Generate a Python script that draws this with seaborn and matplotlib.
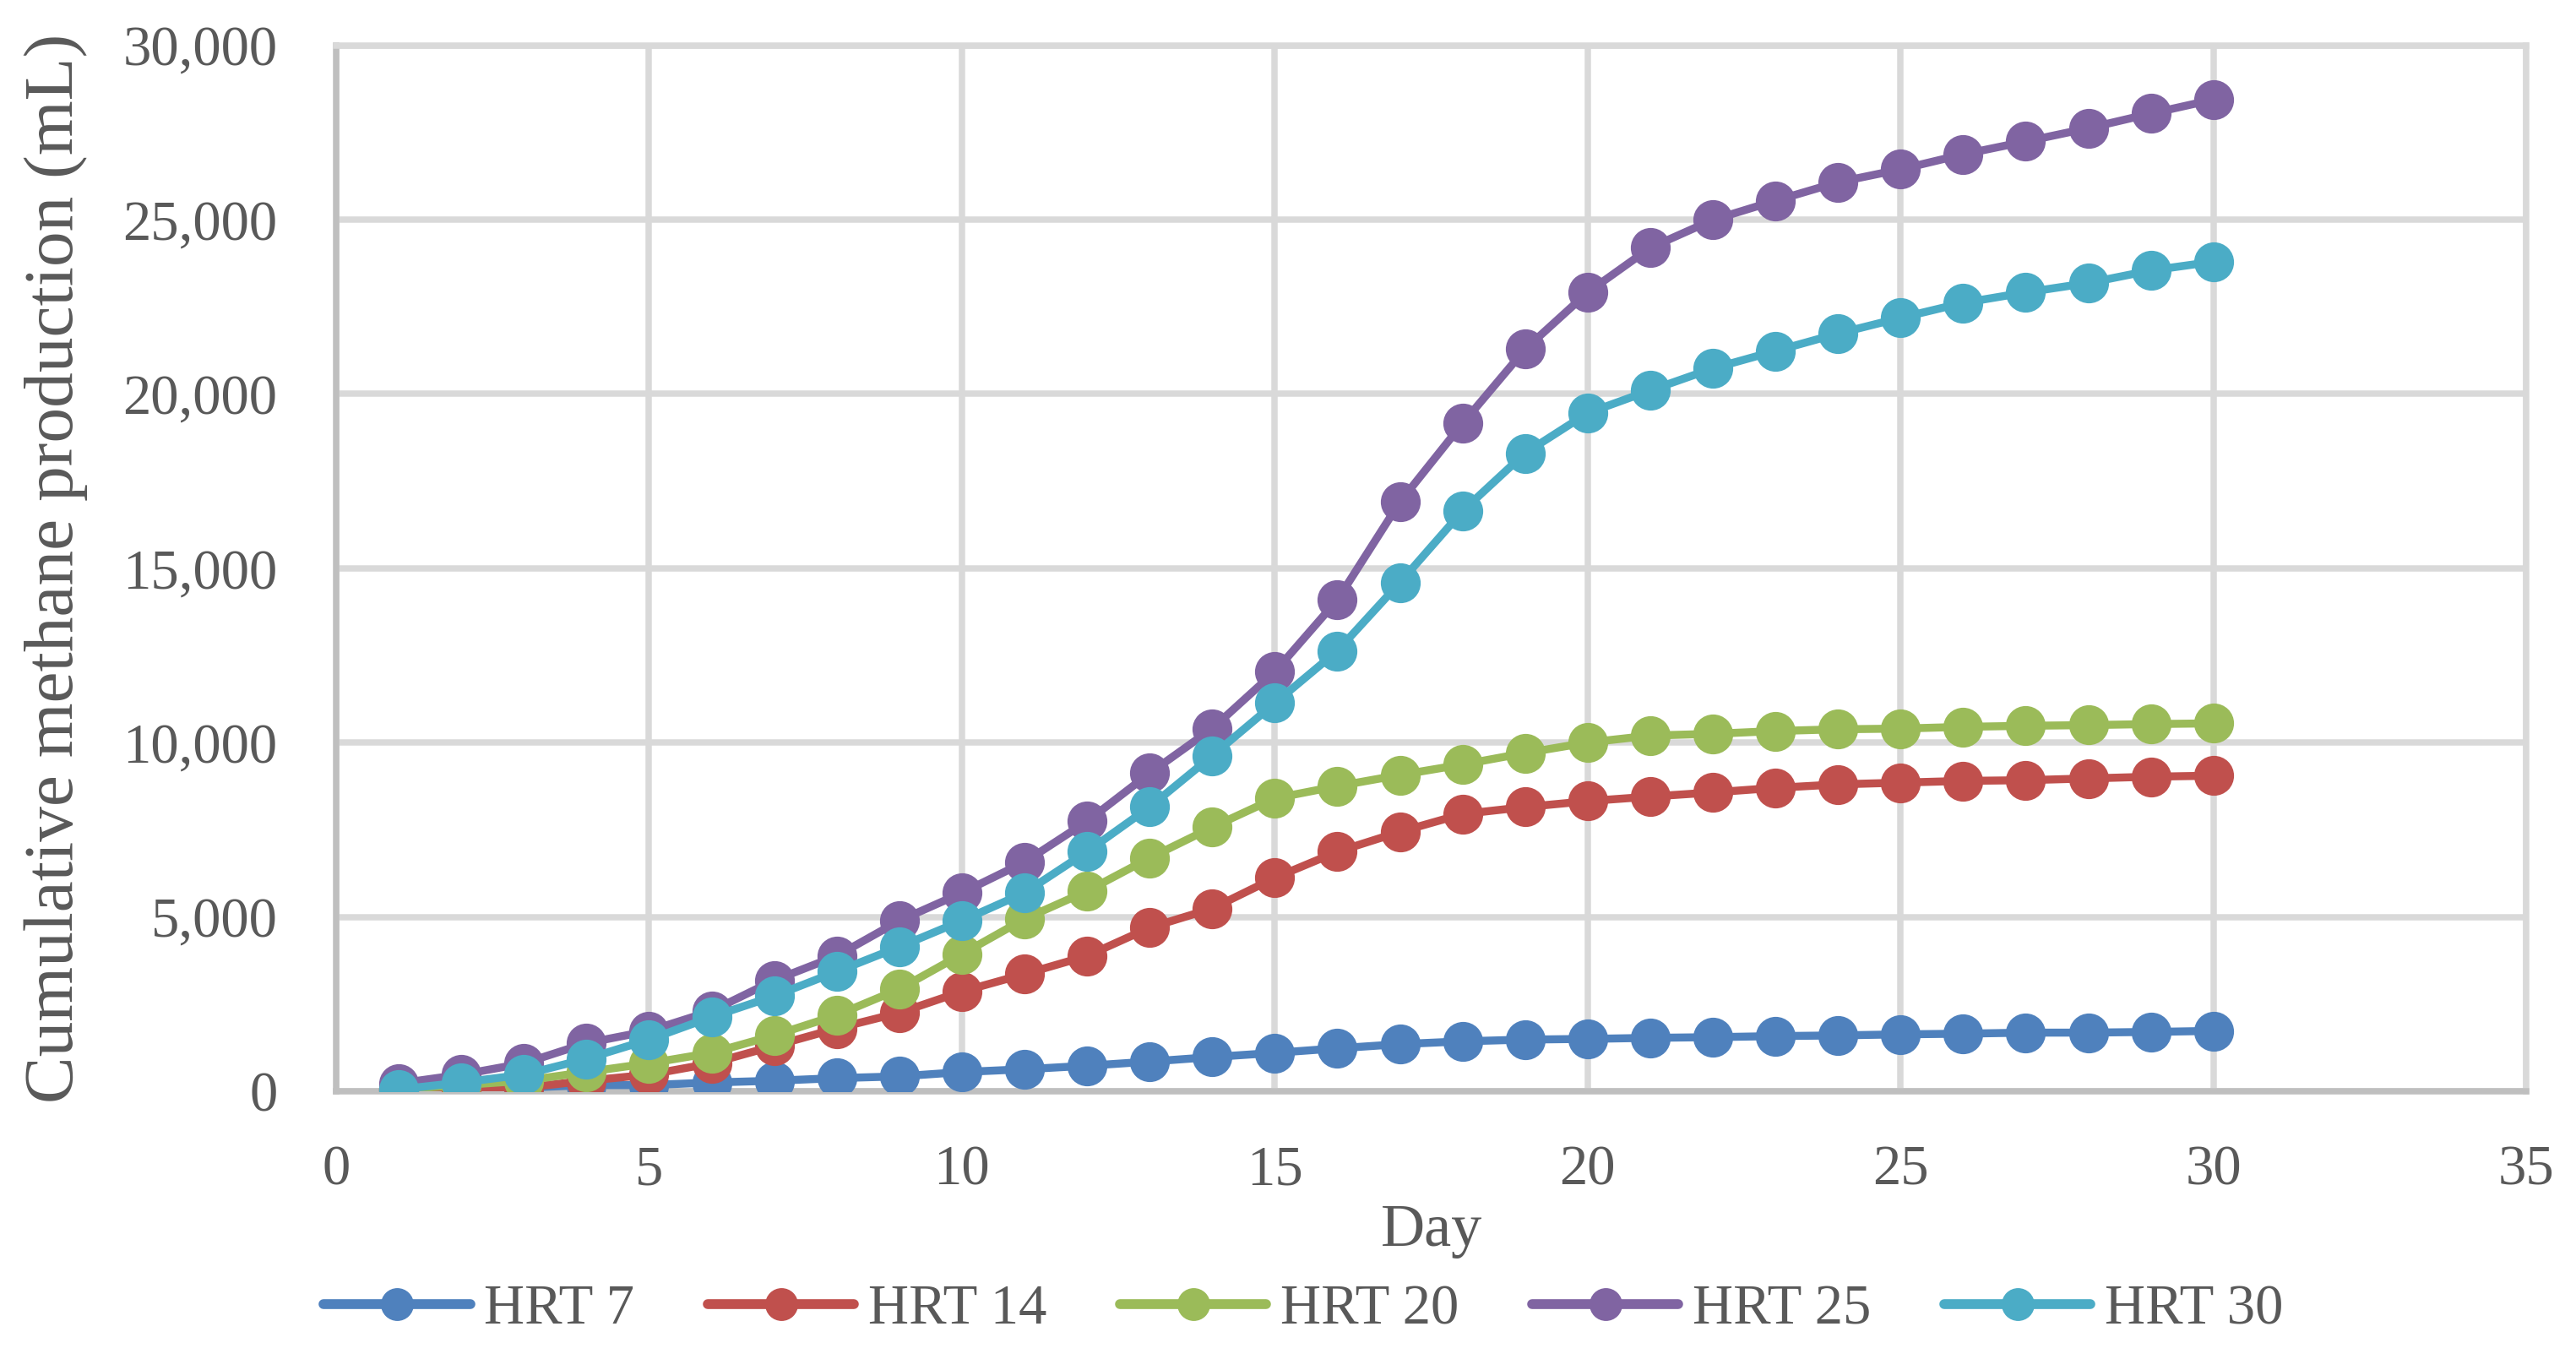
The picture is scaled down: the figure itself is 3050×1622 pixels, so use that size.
import pandas as pd
import numpy as np
import matplotlib.pyplot as plt
import seaborn as sns
from matplotlib.ticker import FuncFormatter
from matplotlib.lines import Line2D

days = list(range(1, 31))
hrt7 = [50, 100, 100, 175, 175, 250, 300, 375, 425, 550,
        630, 730, 850, 980, 1100, 1230, 1350, 1430, 1480, 1500,
        1530, 1550, 1580, 1600, 1630, 1650, 1680, 1680, 1700, 1730]
hrt14 = [50, 50, 100, 300, 475, 800, 1300, 1800, 2250, 2860,
         3360, 3880, 4690, 5240, 6120, 6870, 7440, 7950, 8150, 8320,
         8450, 8570, 8700, 8800, 8850, 8900, 8920, 8970, 9020, 9050]
hrt20 = [50, 175, 300, 550, 800, 1100, 1600, 2180, 2930, 3930,
         4940, 5740, 6690, 7570, 8400, 8750, 9070, 9370, 9700, 10000,
         10200, 10250, 10330, 10380, 10400, 10450, 10480, 10500, 10530, 10550]
hrt25 = [225, 475, 800, 1380, 1730, 2300, 3180, 3880, 4890, 5690,
         6570, 7740, 9120, 10400, 12030, 14090, 16900, 19150, 21280, 22910,
         24190, 24990, 25540, 26070, 26440, 26870, 27240, 27620, 28040, 28440]
hrt30 = [50, 250, 475, 930, 1480, 2130, 2730, 3430, 4140, 4890,
         5690, 6870, 8150, 9620, 11130, 12630, 14590, 16640, 18300, 19450,
         20100, 20730, 21230, 21730, 22180, 22610, 22910, 23180, 23540, 23790]
series_names = ['HRT 7', 'HRT 14', 'HRT 20', 'HRT 25', 'HRT 30']
colors = ['#4F81BD', '#C0504D', '#9BBB59', '#8064A2', '#4BACC6']

frames = []
for name, vals in zip(series_names, [hrt7, hrt14, hrt20, hrt25, hrt30]):
    frames.append(pd.DataFrame({'Day': days, 'Methane': vals, 'Series': name}))
data = pd.concat(frames)

sns.set_style('white')
plt.rcParams['font.family'] = ['Liberation Serif', 'DejaVu Serif']
text_color = '#595959'
grid_color = '#D9D9D9'

fig = plt.figure(figsize=(15.25, 8.11), dpi=200)
ax = fig.add_axes([0.1305, 0.2035, 0.8502, 0.7635])

sns.lineplot(data=data, x='Day', y='Methane', hue='Series', palette=colors,
             marker='o', markersize=17, linewidth=3.4, markeredgewidth=0,
             ax=ax, zorder=3, legend=False)

ax.set_xlim(0, 35)
ax.set_ylim(0, 30000)
ax.set_xticks(range(0, 36, 5))
ax.set_yticks(range(0, 30001, 5000))
ax.yaxis.set_major_formatter(FuncFormatter(lambda v, p: f'{int(v):,}'))
ax.grid(True, color=grid_color, linewidth=2.7)
ax.set_axisbelow(True)
for s in ax.spines.values():
    s.set_color(grid_color)
    s.set_linewidth(2.7)
ax.spines['left'].set_color('#BFBFBF')
ax.spines['bottom'].set_color('#BFBFBF')
ax.tick_params(axis='x', length=0, labelsize=24, colors=text_color, pad=23)
ax.tick_params(axis='y', length=0, labelsize=24, colors=text_color, pad=25)

ax.set_xlabel('Day', fontsize=26, color=text_color, labelpad=3)
ax.set_ylabel('Cumulative methane production (mL)', fontsize=30,
              color=text_color, labelpad=15)

handles = [Line2D([], [], color=c, linewidth=4.2, marker='o', markersize=14,
                  markeredgewidth=0) for c in colors]
fig.legend(handles, series_names, loc='center', bbox_to_anchor=(0.506, 0.044),
           ncol=5, frameon=False, fontsize=24, labelcolor=text_color,
           handlelength=2.6, columnspacing=1.3, handletextpad=0.25)

plt.savefig('out.png', dpi=200)
